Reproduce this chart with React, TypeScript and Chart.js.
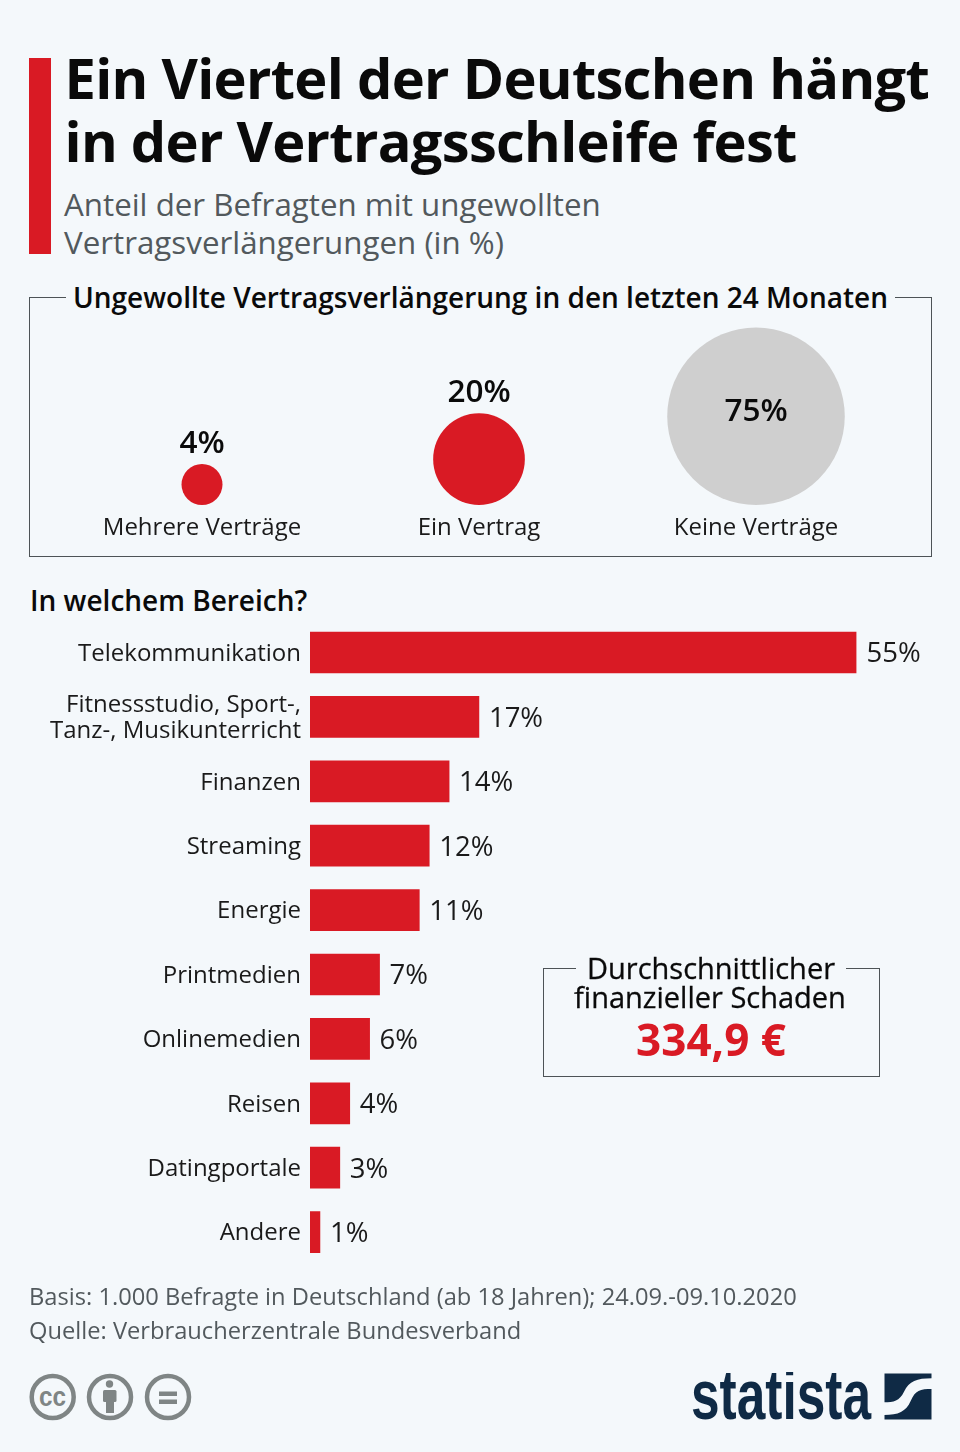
import React, { useEffect, useRef } from "react";
import { Chart, registerables } from "chart.js";

Chart.register(...registerables);

const FONT = '"Open Sans", sans-serif';
const RED = "#d91a24";
const GREY = "#cfcfcf";
const BG = "#f4f8fb";
const INK = "#0a0a0a";
const MUTED = "#52595d";

const TITLE_LINES = ["Ein Viertel der Deutschen hängt", "in der Vertragsschleife fest"];
const SUBTITLE_LINES = ["Anteil der Befragten mit ungewollten", "Vertragsverlängerungen (in %)"];
const PANEL_TITLE = "Ungewollte Vertragsverlängerung in den letzten 24 Monaten";
const BUBBLE_LABELS = ["Mehrere Verträge", "Ein Vertrag", "Keine Verträge"];
const BUBBLE_VALUES = [4, 20, 75];
const BUBBLE_COLORS = [RED, RED, GREY];
const SECTION_TITLE = "In welchem Bereich?";
const BAR_LABELS: (string | string[])[] = [
  "Telekommunikation",
  ["Fitnessstudio, Sport-,", "Tanz-, Musikunterricht"],
  "Finanzen",
  "Streaming",
  "Energie",
  "Printmedien",
  "Onlinemedien",
  "Reisen",
  "Datingportale",
  "Andere",
];
const BAR_VALUES = [55, 17, 14, 12, 11, 7, 6, 4, 3, 1];
const CALLOUT_LINES = ["Durchschnittlicher", "finanzieller Schaden"];
const CALLOUT_VALUE = "334,9 €";
const SOURCE_LINES = [
  "Basis: 1.000 Befragte in Deutschland (ab 18 Jahren); 24.09.-09.10.2020",
  "Quelle: Verbraucherzentrale Bundesverband",
];

const bubbleRadius = (v: number) => 10.25 * Math.sqrt(v);

const bubbleLabelPlugin = {
  id: "bubbleLabels",
  afterDatasetsDraw(chart: any) {
    const { ctx } = chart;
    const meta = chart.getDatasetMeta(0);
    ctx.save();
    ctx.font = `600 31.5px ${FONT}`;
    ctx.fillStyle = INK;
    ctx.textAlign = "center";
    ctx.textBaseline = "middle";
    meta.data.forEach((el: any, i: number) => {
      const v = BUBBLE_VALUES[i];
      const r = bubbleRadius(v);
      const y = v >= 50 ? el.y - 4 : el.y - r - 20;
      ctx.fillText(`${v}%`, el.x, y);
    });
    ctx.restore();
  },
};

const barLabelPlugin = {
  id: "barLabels",
  afterDatasetsDraw(chart: any) {
    const { ctx } = chart;
    const meta = chart.getDatasetMeta(0);
    ctx.save();
    ctx.font = `400 27.5px ${FONT}`;
    ctx.fillStyle = "#1a1a1a";
    ctx.textAlign = "left";
    ctx.textBaseline = "middle";
    meta.data.forEach((el: any, i: number) => {
      ctx.fillText(`${BAR_VALUES[i]}%`, el.x + 10, el.y + 2);
    });
    ctx.restore();
  },
};

function useChart(build: (c: HTMLCanvasElement) => Chart) {
  const ref = useRef<HTMLCanvasElement>(null);
  useEffect(() => {
    const chart = build(ref.current!);
    return () => chart.destroy();
  }, []);
  return ref;
}

function abs(left: number, top: number, extra: React.CSSProperties = {}): React.CSSProperties {
  return { position: "absolute", left, top, whiteSpace: "nowrap", margin: 0, ...extra };
}

export default function App() {
  const bubbleRef = useChart(
    (c) =>
      new Chart(c, {
        type: "bubble",
        data: {
          labels: BUBBLE_LABELS,
          datasets: [
            {
              data: BUBBLE_VALUES.map((v, i) => ({
                x: BUBBLE_LABELS[i],
                y: bubbleRadius(v),
                r: bubbleRadius(v),
              })) as any,
              backgroundColor: BUBBLE_COLORS,
              borderWidth: 0,
              clip: false as any,
            },
          ],
        },
        options: {
          responsive: false,
          animation: false,
          events: [],
          layout: { autoPadding: false, padding: { left: 63.5, right: 65.5, top: 10, bottom: 0 } },
          plugins: { legend: { display: false }, tooltip: { enabled: false } },
          scales: {
            x: {
              type: "category",
              offset: true,
              grid: { display: false, drawTicks: false },
              border: { display: false },
              afterFit: (s: any) => {
                s.height = 50;
                s.paddingLeft = 0;
                s.paddingRight = 0;
              },
              ticks: { color: "#1a1a1a", font: { family: FONT, size: 24 }, padding: 9, maxRotation: 0, autoSkip: false },
            },
            y: { display: false, min: 0, max: 200 },
          },
        },
        plugins: [bubbleLabelPlugin],
      } as any)
  );

  const barRef = useChart(
    (c) =>
      new Chart(c, {
        type: "bar",
        data: {
          labels: BAR_LABELS as any,
          datasets: [{ data: BAR_VALUES, backgroundColor: RED, barThickness: 41, borderWidth: 0 }],
        },
        options: {
          indexAxis: "y",
          responsive: false,
          animation: false,
          events: [],
          layout: { padding: { left: 0, right: 103.5, top: 10.3, bottom: 15.7 } },
          plugins: { legend: { display: false }, tooltip: { enabled: false } },
          scales: {
            x: { display: false, min: 0, max: 55 },
            y: {
              grid: { display: false, drawTicks: false },
              border: { display: false },
              afterFit: (s: any) => {
                s.width = 310;
                s.paddingTop = 0;
                s.paddingBottom = 0;
              },
              ticks: {
                color: "#1a1a1a",
                font: { family: FONT, size: 24, lineHeight: 1.08 },
                padding: 9,
                labelOffset: 1.5,
                autoSkip: false,
              },
            },
          },
        },
        plugins: [barLabelPlugin],
      } as any)
  );

  return (
    <div
      style={{
        position: "absolute",
        left: 0,
        top: 0,
        width: 960,
        height: 1452,
        background: BG,
        overflow: "hidden",
        fontFamily: FONT,
      }}
    >
      <div style={{ position: "absolute", left: 29, top: 58, width: 22, height: 196, background: RED }} />
      {TITLE_LINES.map((t, i) => (
        <div key={t} style={abs(64.5, 36 + i * 62.5, { fontSize: 56, letterSpacing: -0.7, fontWeight: 700, color: INK, lineHeight: "82px" })}>
          {t}
        </div>
      ))}
      {SUBTITLE_LINES.map((t, i) => (
        <div key={t} style={abs(64, 182 + i * 38, { fontSize: 31.3, color: MUTED, lineHeight: "44px" })}>
          {t}
        </div>
      ))}

      <div style={{ position: "absolute", left: 28.5, top: 296.5, width: 901, height: 258, border: "1.3px solid #4d5356" }} />
      <div style={abs(66, 278, { padding: "0 7px", background: BG, fontSize: 28, fontWeight: 600, color: INK, lineHeight: "38px" })}>
        {PANEL_TITLE}
      </div>
      <canvas ref={bubbleRef} width={960} height={260} style={{ position: "absolute", left: 0, top: 295 }} />

      <div style={abs(30, 581, { fontSize: 28, fontWeight: 600, color: INK, lineHeight: "38px" })}>{SECTION_TITLE}</div>
      <canvas ref={barRef} width={960} height={670} style={{ position: "absolute", left: 0, top: 610 }} />

      <div style={{ position: "absolute", left: 542.5, top: 968, width: 335, height: 107, border: "1.3px solid #4d5356" }} />
      <div style={abs(576, 952, { width: 270, textAlign: "center", background: BG, fontSize: 29, fontWeight: 500, color: INK, lineHeight: "32px", WebkitTextStroke: "0.3px #0a0a0a" })}>
        {CALLOUT_LINES[0]}
      </div>
      <div style={abs(543, 981, { width: 334, textAlign: "center", fontSize: 29, fontWeight: 500, color: INK, lineHeight: "32px", WebkitTextStroke: "0.3px #0a0a0a" })}>
        {CALLOUT_LINES[1]}
      </div>
      <div style={abs(543, 1009, { width: 336, textAlign: "center", fontSize: 44, fontWeight: 700, color: RED, lineHeight: "60px" })}>
        {CALLOUT_VALUE}
      </div>

      {SOURCE_LINES.map((t, i) => (
        <div key={t} style={abs(29, 1279 + i * 33.5, { fontSize: 23.7, color: MUTED, lineHeight: "34px" })}>
          {t}
        </div>
      ))}

      <svg width={960} height={80} viewBox="0 1372 960 80" style={{ position: "absolute", left: 0, top: 1372 }}>
        <g fill="none" stroke="#7f8585" strokeWidth={4.5}>
          <circle cx={52.7} cy={1397} r={21} />
          <circle cx={110} cy={1397} r={21} />
          <circle cx={168} cy={1397} r={21} />
        </g>
        <text x={39} y={1406} fontFamily="Liberation Sans" fontWeight={700} fontSize={27} fill="#7f8585" textLength={27} lengthAdjust="spacingAndGlyphs">cc</text>
        <g fill="#7f8585">
          <circle cx={109.5} cy={1384} r={3.7} />
          <rect x={103} y={1390} width={13.5} height={12} rx={1.5} />
          <rect x={106} y={1400} width={8} height={13} />
          <rect x={159} y={1391.5} width={18} height={4.5} />
          <rect x={159} y={1399.5} width={18} height={4.5} />
        </g>
        <text x={691} y={1419} fontFamily="Liberation Sans Narrow, Liberation Sans" fontWeight={700} fontSize={70} fill="#0f2a45" textLength={180} lengthAdjust="spacingAndGlyphs">statista</text>
        <rect x={884.5} y={1373.5} width={47} height={46} fill="#0f2a45" />
        <g transform="translate(870 1365) scale(0.3333)">
          <path d="M186 40 C140 40 118 48 102 80 C88 108 72 112 42 112 L42 150 C85 150 108 140 122 108 C136 76 150 72 186 72 Z" fill={BG} />
        </g>
      </svg>
    </div>
  );
}
